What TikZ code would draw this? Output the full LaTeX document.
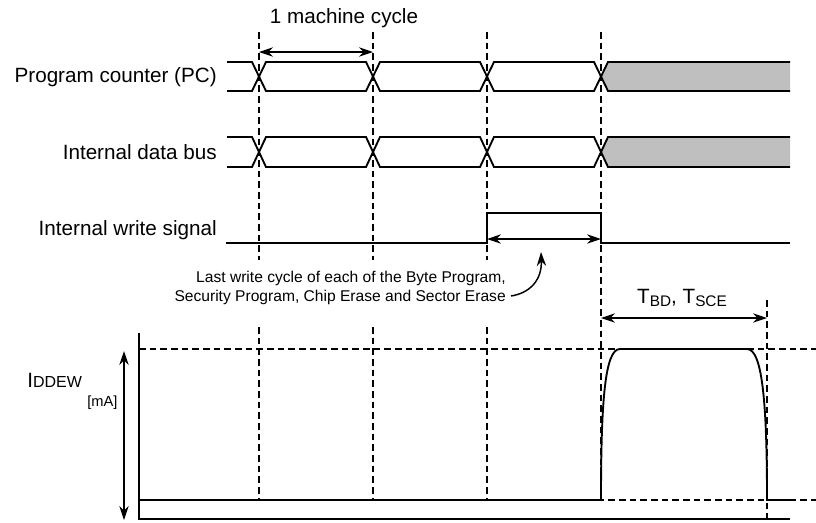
\documentclass[tikz,border=0pt]{standalone}
\usepackage{fontspec}
\setmainfont{Liberation Sans}
\usetikzlibrary{arrows.meta}

\begin{document}
\begin{tikzpicture}[
  x=0.75pt, y=-0.75pt,
  bus/.style={line width=1.4pt, line join=miter},
  grid/.style={line width=1pt, dash pattern=on 5pt off 3pt},
  dim/.style={{Stealth[length=10.5pt,width=7pt]}-{Stealth[length=10.5pt,width=7pt]}, line width=1.1pt},
  lbl/.style={anchor=east, font=\fontsize{15.5}{18}\selectfont},
  every node/.style={inner sep=0pt}
]
\useasboundingbox (0,0) rectangle (816,522);

\node[lbl] (pc) at (217,77) {Program counter (PC)};
\node[lbl] (dbus) at (217,152) {Internal data bus};
\node[lbl] (wsig) at (217,230) {Internal write signal};
\node[font=\fontsize{15.5}{18}\selectfont] (cycle) at (344,18) {1 machine cycle};

\foreach \x in {259,373,487} {
  \draw[grid] (\x,32) -- (\x,260);
  \draw[grid] (\x,327) -- (\x,500);
}
\draw[grid] (601,32) -- (601,500);
\draw[grid] (767,300) -- (767,522);

\foreach \t/\b in {62/91, 137/167} {
  \fill[black!25] ({601},{(\t+\b)/2}) -- (608,\t) -- (790,\t) -- (790,\b) -- (608,\b) -- cycle;
  \draw[bus] (227,\t) -- (252,\t) -- (266,\b) -- (366,\b) -- (380,\t) -- (480,\t) -- (494,\b) -- (594,\b) -- (608,\t) -- (790,\t);
  \draw[bus] (227,\b) -- (252,\b) -- (266,\t) -- (366,\t) -- (380,\b) -- (480,\b) -- (494,\t) -- (594,\t) -- (608,\b) -- (790,\b);
}

\draw[bus] (226,243) -- (487,243) -- (487,213) -- (601,213) -- (601,243) -- (790,243);

\coordinate (mc1) at (259,52);
\coordinate (mc2) at (373,52);
\draw[dim] (mc1) -- (mc2);
\coordinate (wr1) at (487,239);
\coordinate (wr2) at (601,239);
\draw[dim] (wr1) -- (wr2);

\node[align=right, anchor=east, font=\fontsize{11.7}{14.2}\selectfont] (note) at (506,288)
  {Last write cycle of each of the Byte Program,\\Security Program, Chip Erase and Sector Erase};
\draw[line width=1.1pt, -{Stealth[length=10.5pt,width=7pt]}] (note.east) ++(5,8)
  .. controls (530,293) and (542,280) .. (541,252);

\draw[bus] (139,333) -- (139,519) -- (790,519);
\draw[grid] (139,349) -- (816,349);
\draw[grid] (139,500) -- (816,500);
\draw[bus] (139,500) -- (601,500) .. controls (601,400) and (605,349) .. (620,349)
  -- (747,349) .. controls (762,349) and (767,400) .. (767,500) -- (790,500);

\coordinate (ia) at (124,351);
\coordinate (ib) at (124,520);
\draw[dim] (ia) -- (ib);
\node[anchor=base west, font=\fontsize{15.5}{18}\selectfont] (idd) at (27,387)
  {I{\fontsize{12}{14}\selectfont DDEW}};
\node[anchor=base west, font=\fontsize{11}{13}\selectfont] (unit) at (87,406) {[mA]};

\coordinate (tb1) at (601,318);
\coordinate (tb2) at (767,318);
\draw[dim] (tb1) -- (tb2);
\node[anchor=base, font=\fontsize{15.5}{18}\selectfont] (tbd) at (682,303)
  {T\raisebox{-2.5pt}{\fontsize{11.5}{13}\selectfont BD}, T\raisebox{-2.5pt}{\fontsize{11.5}{13}\selectfont SCE}};
\end{tikzpicture}
\end{document}
